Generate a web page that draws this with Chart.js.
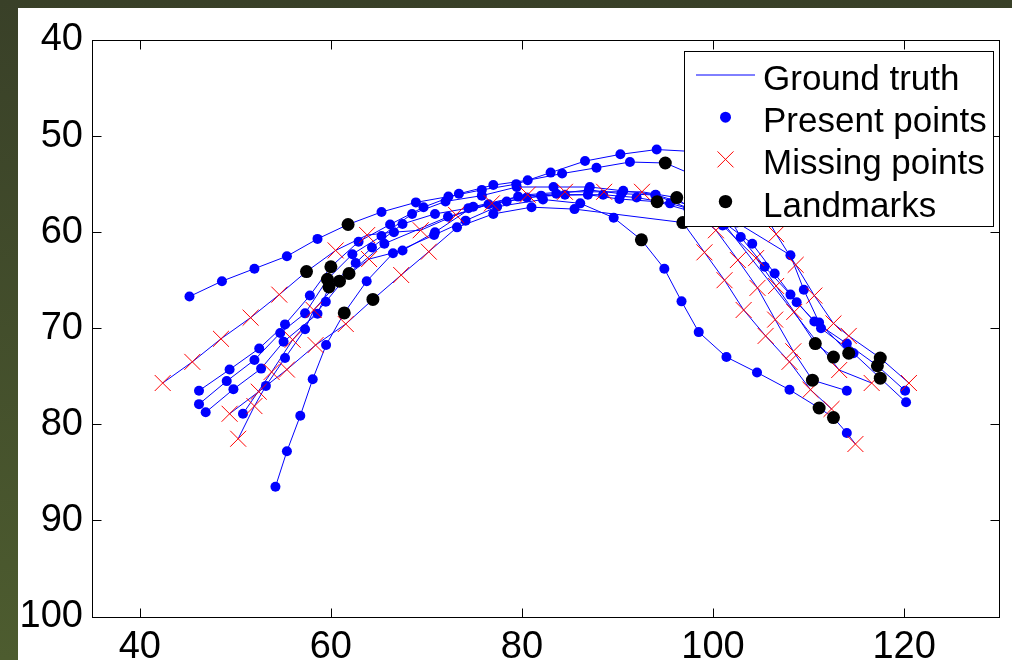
<!DOCTYPE html>
<html lang="en">
<head>
<meta charset="UTF-8">
<title>Ground truth, present and missing points</title>
<script src="https://cdn.jsdelivr.net/npm/chart.js"></script>
<style>
  html, body { margin: 0; padding: 0; }
  body { width: 1012px; height: 660px; overflow: hidden; position: relative;
         background: linear-gradient(#394028, #4d5c2f); }
  #wrap { position: absolute; left: 18px; top: 8px; width: 994px; height: 652px; background: #fff; }
</style>
</head>
<body>
<div id="wrap"><canvas id="chart" width="994" height="652"></canvas></div>
<script>
// each point: [x, y, kind]  kind: P = present, M = missing, L = landmark
const curve1 = [[45.2,66.7,'P'],[48.6,65.1,'P'],[52.0,63.8,'P'],[55.4,62.5,'P'],[58.6,60.7,'P'],[61.8,59.2,'L'],[65.3,57.9,'P'],[68.9,56.9,'P'],[72.3,56.3,'P'],[75.8,55.6,'P'],[79.4,55.0,'P'],[83.0,53.8,'P'],[86.6,52.6,'P'],[90.3,51.9,'P'],[94.1,51.4,'P'],[97.8,51.6,'P'],[101.2,52.8,'P'],[104.2,56.0,'P'],[106.6,60.2,'M'],[108.65,63.4,'M'],[110.6,66.6,'M'],[112.6,69.5,'M'],[114.2,70.8,'M'],[117.5,73.1,'L'],[120.5,75.7,'M']];
const curve2 = [[46.2,76.5,'P'],[49.4,74.3,'P'],[52.5,72.1,'P'],[55.2,69.6,'P'],[57.8,66.6,'P'],[60.0,63.6,'L'],[62.9,61.0,'P'],[66.2,59.2,'P'],[69.7,57.4,'P'],[73.4,56.0,'P'],[77.0,55.1,'P'],[80.6,54.6,'P'],[84.2,53.9,'P'],[87.8,53.3,'P'],[91.3,52.7,'P'],[95.0,52.8,'L'],[98.3,54.2,'P'],[100.8,57.0,'P'],[102.9,60.5,'P'],[105.4,63.6,'P'],[108.1,66.5,'P'],[110.6,69.3,'P'],[114.0,71.6,'P'],[117.2,73.9,'L'],[120.1,76.5,'P']];
const curve3 = [[46.2,77.9,'P'],[49.1,75.5,'P'],[52.0,73.3,'P'],[54.7,70.5,'P'],[57.3,68.45,'P'],[59.64,64.9,'L'],[62.25,62.3,'P'],[65.3,60.4,'P'],[68.5,58.1,'P'],[72.0,56.8,'P'],[75.8,56.2,'P'],[79.45,55.3,'P'],[83.3,55.3,'P'],[87.1,55.3,'P'],[90.6,55.7,'P'],[94.0,56.1,'P'],[97.5,57.2,'P'],[100.6,58.6,'P'],[104.1,61.2,'P'],[106.45,64.3,'P'],[108.75,67.3,'P'],[111.3,70.0,'P'],[114.7,72.6,'P'],[117.5,75.2,'L'],[120.2,77.7,'P']];
const curve4 = [[42.4,75.7,'M'],[45.5,73.5,'M'],[48.5,71.1,'M'],[51.6,68.9,'M'],[54.6,66.5,'M'],[57.45,64.1,'L'],[60.5,61.9,'M'],[63.8,60.3,'M'],[66.6,60.0,'P'],[69.4,59.8,'M'],[73.1,58.2,'M'],[76.85,57.0,'M'],[80.6,56.1,'M'],[84.5,55.8,'M'],[88.6,55.8,'M'],[92.56,55.8,'M'],[96.2,56.4,'L'],[100.3,59.8,'M'],[102.6,62.9,'M'],[104.65,65.8,'M'],[106.5,69.1,'M'],[108.4,72.4,'M'],[110.4,75.4,'L'],[114.0,76.5,'P']];
const curve5 = [[46.9,78.75,'P'],[49.8,76.35,'P'],[52.7,74.2,'P'],[55.05,71.4,'P'],[58.6,68.5,'P'],[59.8,65.7,'L'],[62.6,63.2,'P'],[64.3,61.6,'P'],[67.5,59.15,'P'],[70.9,58.1,'P'],[74.4,57.5,'P'],[78.4,56.8,'P'],[82.0,56.2,'P'],[86.9,56.1,'P'],[90.2,56.55,'P'],[94.15,56.83,'L'],[97.6,57.8,'P'],[101.2,59.2,'P'],[113.2,74.35,'M'],[116.6,75.7,'M']];
const curve6 = [[54.2,86.5,'P'],[55.4,82.8,'P'],[56.8,79.1,'P'],[58.1,75.3,'P'],[59.5,71.75,'P'],[61.4,68.4,'L'],[63.75,65.1,'P'],[66.5,62.2,'P'],[70.8,60.3,'P'],[74.1,58.8,'P'],[77.4,57.35,'P'],[82.2,56.6,'P'],[86.1,57.0,'P'],[89.6,58.5,'P'],[92.5,60.8,'L'],[94.9,63.8,'P'],[96.7,67.2,'P'],[98.5,70.4,'P'],[101.4,73.0,'P'],[104.6,74.6,'P'],[108.0,76.4,'P'],[111.1,78.3,'L'],[112.6,79.3,'L'],[114.0,80.9,'P'],[114.9,82.05,'M']];
const curve7 = [[50.3,81.5,'M'],[52.0,78.1,'M'],[53.2,76.0,'P'],[55.2,73.1,'P'],[57.3,70.1,'P'],[58.2,68.1,'M'],[60.9,65.1,'L'],[64.0,62.8,'M'],[67.5,61.9,'P'],[70.9,60.0,'P'],[74.9,57.35,'P'],[79.6,56.3,'P'],[83.6,56.0,'P'],[87.0,55.6,'P'],[90.4,56.0,'P'],[93.95,56.13,'P'],[97.4,57.5,'P'],[101.0,59.3,'P'],[104.5,62.7,'M'],[106.6,65.6,'M'],[108.5,68.3,'M'],[110.7,71.6,'L'],[112.6,73.0,'L']];
const curve8 = [[50.8,78.9,'P'],[53.8,74.55,'M'],[56.0,71.2,'M'],[59.47,67.24,'P'],[61.9,64.3,'L'],[65.6,61.2,'P'],[72.26,58.4,'P'],[76.5,57.1,'P'],[80.5,56.4,'P'],[84.5,56.1,'P'],[88.5,56.1,'P'],[92.0,56.4,'P'],[95.5,57.0,'P'],[99.0,58.0,'P'],[102.5,59.0,'P'],[108.1,62.4,'P'],[109.5,66.0,'P'],[111.1,69.4,'P'],[114.2,72.6,'L']];
const curve9 = [[49.4,78.9,'M'],[52.45,76.6,'M'],[55.4,74.3,'M'],[58.4,71.75,'M'],[61.56,69.56,'M'],[64.4,67.0,'L'],[67.36,64.46,'M'],[70.25,62.03,'M'],[73.2,59.5,'P'],[77.0,58.1,'P'],[81.0,57.4,'P'],[85.5,57.6,'P'],[96.84,59.0,'L'],[99.1,62.1,'M'],[101.2,65.0,'M'],[103.2,68.1,'M'],[105.5,70.8,'M'],[108.0,73.5,'M'],[110.2,76.4,'M'],[112.4,78.4,'M']];

const xTicks = [40, 60, 80, 100, 120];
const yTicks = [40, 50, 60, 70, 80, 90, 100];
const legendLabels = ['Ground truth', 'Present points', 'Missing points', 'Landmarks'];

const curves = [curve1, curve2, curve3, curve4, curve5, curve6, curve7, curve8, curve9];
const FONT = '"Liberation Sans", Arial, Helvetica, sans-serif';

function pick(kind) {
  return curves.flatMap(c => c.filter(p => p[2] === kind).map(p => ({ x: p[0], y: p[1] })));
}

const lineSets = curves.map(c => ({
  data: c.map(p => ({ x: p[0], y: p[1] })),
  showLine: true,
  borderColor: '#0000ff',
  borderWidth: 1,
  pointRadius: 0,
  pointHoverRadius: 0,
  order: 3
}));

// frame, inward ticks on all four sides, and the boxed legend
const axesBox = {
  id: 'axesBox',
  afterDraw(chart) {
    const { ctx, chartArea: a, scales } = chart;
    const L = Math.round(a.left) + 0.5, R = Math.round(a.right) - 0.5;
    const T = Math.round(a.top) + 0.5, B = Math.round(a.bottom) + 0.5;
    ctx.save();
    ctx.strokeStyle = '#000';
    ctx.lineWidth = 1;
    ctx.strokeRect(L, T, R - L, B - T);
    ctx.beginPath();
    xTicks.forEach(v => {
      const px = Math.round(scales.x.getPixelForValue(v)) + 0.5;
      ctx.moveTo(px, B); ctx.lineTo(px, B - 9);
      ctx.moveTo(px, T); ctx.lineTo(px, T + 9);
    });
    yTicks.forEach(v => {
      const py = Math.round(scales.y.getPixelForValue(v)) + 0.5;
      ctx.moveTo(L, py); ctx.lineTo(L + 9, py);
      ctx.moveTo(R, py); ctx.lineTo(R - 9, py);
    });
    ctx.stroke();

    // legend
    const bx = 666.5, by = 43.5, bw = 309, bh = 175;
    ctx.fillStyle = '#fff';
    ctx.fillRect(bx, by, bw, bh);
    ctx.strokeRect(bx, by, bw, bh);
    const mx = 707.5;
    const rowY = i => 67 + i * 42.2;
    ctx.strokeStyle = '#0000ff';
    ctx.beginPath();
    ctx.moveTo(678, rowY(0)); ctx.lineTo(737, rowY(0));
    ctx.stroke();
    ctx.fillStyle = '#0000ff';
    ctx.beginPath(); ctx.arc(mx, rowY(1), 5.5, 0, Math.PI * 2); ctx.fill();
    ctx.strokeStyle = '#ff0000';
    ctx.beginPath();
    const yy = rowY(2);
    ctx.moveTo(mx - 8, yy - 8); ctx.lineTo(mx + 8, yy + 8);
    ctx.moveTo(mx - 8, yy + 8); ctx.lineTo(mx + 8, yy - 8);
    ctx.stroke();
    ctx.fillStyle = '#000';
    ctx.beginPath(); ctx.arc(mx, rowY(3), 6.7, 0, Math.PI * 2); ctx.fill();
    ctx.font = '35px ' + FONT;
    ctx.textBaseline = 'alphabetic';
    ctx.textAlign = 'left';
    legendLabels.forEach((t, i) => ctx.fillText(t, 745, rowY(i) + 15));
    ctx.restore();
  }
};

new Chart(document.getElementById('chart'), {
  type: 'scatter',
  data: {
    datasets: [
      ...lineSets,
      { label: 'Present points', data: pick('P'), pointStyle: 'circle', pointRadius: 5,
        pointBackgroundColor: '#0000ff', pointBorderWidth: 0, order: 2 },
      { label: 'Missing points', data: pick('M'), pointStyle: 'crossRot', pointRadius: 11.3,
        pointBorderColor: '#ff0000', pointBorderWidth: 1, order: 1 },
      { label: 'Landmarks', data: pick('L'), pointStyle: 'circle', pointRadius: 6.5,
        pointBackgroundColor: '#000000', pointBorderWidth: 0, order: 0 }
    ]
  },
  options: {
    responsive: false,
    animation: false,
    layout: { padding: { top: 32, right: 9, left: 0, bottom: 0 } },
    plugins: { legend: { display: false }, tooltip: { enabled: false } },
    scales: {
      x: {
        type: 'linear', min: 35, max: 130,
        grid: { display: false, drawTicks: false }, border: { display: false },
        afterBuildTicks: s => { s.ticks = xTicks.map(v => ({ value: v })); },
        afterFit: s => { s.height = 43.5; },
        ticks: { padding: 8, color: '#000', font: { family: FONT, size: 38 }, maxRotation: 0 }
      },
      y: {
        type: 'linear', min: 40, max: 100, reverse: true,
        grid: { display: false, drawTicks: false }, border: { display: false },
        afterBuildTicks: s => { s.ticks = yTicks.map(v => ({ value: v })); },
        afterFit: s => { s.width = 74; },
        ticks: { padding: 9, color: '#000', font: { family: FONT, size: 38 } }
      }
    }
  },
  plugins: [axesBox]
});
</script>
</body>
</html>
